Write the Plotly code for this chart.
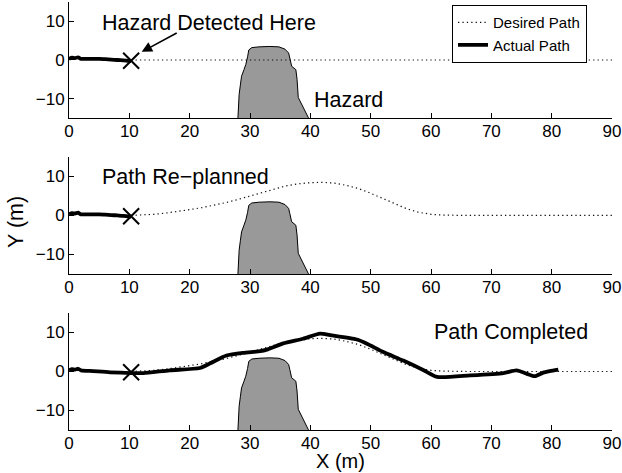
import plotly.graph_objects as go

# ---- data ----
hazard_x = [28.0, 28.1, 28.2, 28.4, 28.6, 29.0, 29.3, 29.6, 29.8, 30.3, 31.5, 33.3, 34.8, 35.8, 36.4, 36.6, 36.9, 37.6, 37.8, 38.0, 38.8, 39.7]
hazard_y = [-15.0, -11.5, -8.9, -6.5, -4.2, -2.5, -1.2, 0.8, 2.6, 3.2, 3.4, 3.5, 3.4, 2.8, 1.8, 0.5, -1.6, -2.5, -5.0, -9.7, -12.3, -15.0]

desired_straight_x = [10.3, 90.0]
desired_straight_y = [0.0, 0.0]

desired_replan_x = [10.3, 12, 14, 16, 18, 20, 22, 24, 26, 28, 30, 32, 34, 36, 38, 40, 42, 44, 46, 48, 50, 52, 54, 56, 58, 60, 62, 64, 66, 70, 75, 80, 85, 90]
desired_replan_y = [0.0, 0.1, 0.3, 0.6, 1.0, 1.5, 2.0, 2.6, 3.3, 4.1, 5.0, 6.0, 6.9, 7.6, 8.1, 8.4, 8.5, 8.3, 7.7, 6.9, 5.7, 4.3, 2.9, 1.7, 0.8, 0.3, 0.1, 0.0, 0.0, 0.0, 0.0, 0.0, 0.0, 0.0]

actual_partial_x = [0, 0.5, 1, 1.5, 2, 3, 4, 5, 6, 7, 8, 9, 10.3]
actual_partial_y = [0.3, 0.6, 0.5, 0.7, 0.3, 0.3, 0.3, 0.3, 0.2, 0.1, 0.0, -0.1, -0.3]

actual_full_x = [0, 0.5, 1, 1.5, 2, 4, 6.8, 10.3, 12.3, 16.7, 21.7, 23.4, 26.1, 28.9, 31.7, 32.8, 35.5, 38.8, 41.6, 43.3, 47.7, 49.3, 52.1, 55.4, 58.7, 61.0, 66.5, 72.0, 74.2, 75.9, 77.2, 78.6, 79.7, 81.1]
actual_full_y = [0.3, 0.6, 0.5, 0.7, 0.3, 0.1, -0.2, -0.4, -0.4, 0.3, 0.9, 2.1, 4.1, 4.8, 5.2, 5.6, 7.2, 8.4, 9.7, 9.3, 8.2, 7.2, 5.0, 2.8, 0.4, -1.4, -1.0, -0.4, 0.3, -0.6, -1.2, -0.3, 0.1, 0.5]

detect_x = [10.3]
detect_y = [-0.2]

x_ticks = [0, 10, 20, 30, 40, 50, 60, 70, 80, 90]
y_ticks = [-10, 0, 10]

FONT = "Liberation Sans, Arial, Helvetica, sans-serif"

fig = go.Figure()

domains = [(0.729, 1.0), (0.3645, 0.638), (0.0, 0.2734)]
desired_sets = [(desired_straight_x, desired_straight_y), (desired_replan_x, desired_replan_y), (desired_replan_x, desired_replan_y)]
actual_sets = [(actual_partial_x, actual_partial_y), (actual_partial_x, actual_partial_y), (actual_full_x, actual_full_y)]

for i in range(3):
    xa = "x" if i == 0 else f"x{i+1}"
    ya = "y" if i == 0 else f"y{i+1}"
    fig.add_trace(go.Scatter(x=hazard_x, y=hazard_y, xaxis=xa, yaxis=ya, mode="lines", fill="toself",
                             fillcolor="#999999", line=dict(color="black", width=1), showlegend=False, hoverinfo="skip"))
    dx, dy = desired_sets[i]
    fig.add_trace(go.Scatter(x=dx, y=dy, xaxis=xa, yaxis=ya, mode="lines", name="Desired Path",
                             line=dict(color="#111111", width=1.2, dash="1.3px,3.1px"), showlegend=(i == 0)))
    ax_, ay_ = actual_sets[i]
    fig.add_trace(go.Scatter(x=ax_, y=ay_, xaxis=xa, yaxis=ya, mode="lines", name="Actual Path",
                             line=dict(color="black", width=3.8, shape="spline", smoothing=0.6), showlegend=(i == 0)))
    fig.add_trace(go.Scatter(x=detect_x, y=detect_y, xaxis=xa, yaxis=ya, mode="markers", showlegend=False,
                             marker=dict(symbol="x-thin", size=16, line=dict(color="black", width=2))))

axis_common = dict(showline=True, linecolor="black", linewidth=1, ticks="inside", ticklen=5,
                   tickcolor="black", showgrid=False, zeroline=False, mirror=False,
                   tickfont=dict(family=FONT, size=17, color="black"))

layout = dict(
    width=622, height=473,
    margin=dict(l=69, r=10, t=2, b=43),
    plot_bgcolor="white", paper_bgcolor="white",
    font=dict(family=FONT, color="black"),
    legend=dict(x=0.705, y=0.993, xanchor="left", yanchor="top", bgcolor="white",
                bordercolor="black", borderwidth=1.2, font=dict(family=FONT, size=15),
                tracegroupgap=0),
)
for i in range(3):
    xk = "xaxis" if i == 0 else f"xaxis{i+1}"
    yk = "yaxis" if i == 0 else f"yaxis{i+1}"
    ya = "y" if i == 0 else f"y{i+1}"
    xa = "x" if i == 0 else f"x{i+1}"
    layout[xk] = dict(axis_common, range=[0, 90], tickvals=x_ticks, anchor=ya, domain=[0, 1],
                      ticklabelstandoff=-2)
    layout[yk] = dict(axis_common, range=[-15, 15], tickvals=y_ticks, anchor=xa, domain=list(domains[i]),
                      ticktext=["\u221210", "0", "10"])

fig.update_layout(**layout)

big = dict(family=FONT, size=21.5, color="black")
fig.add_annotation(x=5.1, y=9.5, xref="x", yref="y", text="Hazard Detected Here", showarrow=False,
                   xanchor="left", yanchor="middle", font=big)
fig.add_annotation(x=12.05, y=2.1, xref="x", yref="y", ax=18.1, ay=7.2, axref="x", ayref="y",
                   text="", showarrow=True, arrowhead=2, arrowsize=1.3, arrowwidth=1.6, arrowcolor="black")
fig.add_annotation(x=40.2, y=-10.3, xref="x", yref="y", text="Hazard", showarrow=False,
                   xanchor="left", yanchor="middle", font=big)
fig.add_annotation(x=5.1, y=9.9, xref="x2", yref="y2", text="Path Re\u2212planned", showarrow=False,
                   xanchor="left", yanchor="middle", font=big)
fig.add_annotation(x=60.1, y=10.0, xref="x3", yref="y3", text="Path Completed", showarrow=False,
                   xanchor="left", yanchor="middle", font=big)
fig.add_annotation(x=-0.0976, y=0.486, xref="paper", yref="paper", text="Y (m)", showarrow=False,
                   textangle=-90, xanchor="center", yanchor="middle", font=big)
fig.add_annotation(x=0.5, y=-0.073, xref="paper", yref="paper", text="X (m)", showarrow=False,
                   xanchor="center", yanchor="middle", font=dict(family=FONT, size=20, color="black"))

fig.write_html("out.html")
